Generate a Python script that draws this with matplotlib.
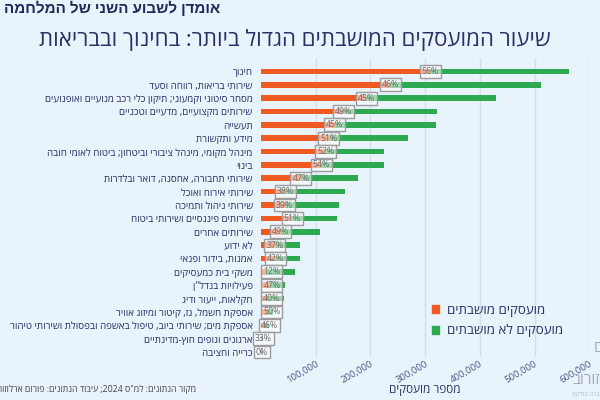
import re
import numpy as np
import matplotlib
matplotlib.use("Agg")
import matplotlib.pyplot as plt
from matplotlib.patches import Patch
from matplotlib.ticker import FuncFormatter

plt.rcParams['font.family'] = ['Open Sans', 'Liberation Sans', 'DejaVu Sans']

# ---------------- data ----------------
categories = [
    "חינוך",
    "שירותי בריאות, רווחה וסעד",
    "מסחר סיטוני וקמעוני; תיקון כלי רכב מנועיים ואופנועים",
    "שירותים מקצועיים, מדעיים וטכניים",
    "תעשייה",
    "מידע ותקשורת",
    "מינהל מקומי, מינהל ציבורי וביטחון; ביטוח לאומי חובה",
    "בינוי",
    "שירותי תחבורה, אחסנה, דואר ובלדרות",
    "שירותי אירוח ואוכל",
    "שירותי ניהול ותמיכה",
    "שירותים פיננסיים ושירותי ביטוח",
    "שירותים אחרים",
    "לא ידוע",
    "אמנות, בידור ופנאי",
    "משקי בית כמעסיקים",
    "פעילויות בנדל\"ן",
    "חקלאות, ייעור ודיג",
    "אספקת חשמל, גז, קיטור ומיזוג אוויר",
    "אספקת מים; שירותי ביוב, טיפול באשפה ובפסולת ושירותי טיהור",
    "ארגונים וגופים חוץ-מדינתיים",
    "כרייה וחציבה",
]
total_employed = [562000, 511000, 430000, 322000, 320000, 269000, 225000, 224000,
                  178000, 154000, 143000, 139000, 108000, 72000, 71000, 63000,
                  44000, 42000, 22000, 15000, 4000, 1500]
mobilized = [309000, 236000, 192000, 150000, 135000, 124000, 118000, 110000,
             73000, 44000, 43000, 57000, 36000, 25000, 26000, 8000,
             14000, 12000, 11000, 7000, 1300, 0]
pct_labels = [56, 46, 45, 49, 45, 51, 52, 54, 47, 38, 39, 51, 49, 37, 42, 12,
              47, 40, 50, 46, 33, 0]
x_ticks = [100000, 200000, 300000, 400000, 500000, 600000]

title = "שיעור המועסקים המושבתים הגדול ביותר: בחינוך ובבריאות"
header = "אומדן לשבוע השני של המלחמה"
source = "מקור הנתונים: למ\"ס 2024; עיבוד הנתונים: פורום ארלוזורוב"
xlabel = "מספר מועסקים"
legend_labels = ["מועסקים מושבתים", "מועסקים לא מושבתים"]

# ---------------- helpers ----------------
LTR = r'[0-9A-Za-z%]'


def rtl(s):
    tokens = re.findall(LTR + r'[0-9A-Za-z%,.]*' + LTR + '|' + LTR + r'|[^0-9A-Za-z%]+', s)
    out = []
    for t in reversed(tokens):
        out.append(t if re.match(LTR, t) else t[::-1])
    return ''.join(out)


BG = '#E9F3FB'
ORANGE = '#EE5A22'
GREEN = '#2DA94F'
NAVY = '#2A3166'

fig = plt.figure(figsize=(6, 4), dpi=100, facecolor=BG)
ax = fig.add_axes([261 / 600, 1 - 357 / 400, (589.3 - 261) / 600, (357 - 58) / 400])
ax.set_facecolor(BG)

n = len(categories)
y = np.arange(n)
tot = np.array(total_employed, dtype=float)
mob = np.array(mobilized, dtype=float)

ax.barh(y, mob, height=0.42, color=ORANGE, zorder=2)
ax.barh(y, tot - mob, left=mob, height=0.42, color=GREEN, zorder=2)

for i in range(n):
    xc = max(mob[i], min(tot[i], 20000))
    ax.text(xc, y[i], f"{pct_labels[i]}%", ha='center', va='center', fontsize=6.3,
            color='#6b6b6b', zorder=4,
            bbox=dict(boxstyle='square,pad=0.22', fc=(1, 1, 1, 0.55), ec='#9c9c9c', lw=1))

ax.set_xlim(0, 600000)
ax.set_ylim(n - 1 + 0.37, -1.0)
ax.set_xticks(x_ticks)
ax.xaxis.set_major_formatter(FuncFormatter(lambda v, p: f"{int(v):,}"))
ax.set_yticks(y)
ax.set_yticklabels([rtl(c) for c in categories])
ax.tick_params(axis='y', length=0, pad=6, labelsize=7.0, labelcolor=NAVY)
ax.tick_params(axis='x', length=0, pad=2, labelsize=6.8, labelcolor='#4a5a85')
for lab in ax.get_xticklabels():
    lab.set_rotation(30)
    lab.set_ha('right')
    lab.set_rotation_mode('anchor')
ax.grid(axis='x', color='#D5DEE9', lw=1, zorder=0)
ax.grid(axis='y', visible=False)
for s in ax.spines.values():
    s.set_visible(False)

fig.text(551 / 600, 1 - 40 / 400, rtl(title), ha='right', va='center', fontsize=16, color=NAVY)
fig.text(220 / 600, 1 - 8 / 400, rtl(header), ha='right', va='center', fontsize=11,
         weight='bold', color='#1F2A5A')
fig.text(196 / 600, 1 - 389 / 400, rtl(source), ha='right', va='center', fontsize=6.3, color='#444444')
fig.text(425 / 600, 1 - 389 / 400, rtl(xlabel), ha='center', va='center', fontsize=8.5, color=NAVY)

# partial logo at right edge
fig.text(594 / 600, 1 - 349 / 400, rtl("פורום"), ha='left', va='center', fontsize=11, color='#A3AABB')
fig.text(572.7 / 600, 1 - 381 / 400, rtl("ארלוזורוב"), ha='left', va='center', fontsize=11, color='#A3AABB')
fig.text(571.7 / 600, 1 - 394 / 400, rtl("לחברה צודקת"), ha='left', va='center', fontsize=4.5, color='#B5BBC8')

handles = [Patch(color=ORANGE), Patch(color=GREEN)]
fig.legend(handles, [rtl(l) for l in legend_labels], loc='upper left',
           bbox_to_anchor=(432 / 600, 1 - 304 / 400), frameon=False, fontsize=9.5,
           handlelength=0.55, handleheight=0.55, handletextpad=0.6, labelspacing=0.55,
           borderpad=0, borderaxespad=0, labelcolor=NAVY)

fig.savefig('out.png', dpi=100, facecolor=BG)
